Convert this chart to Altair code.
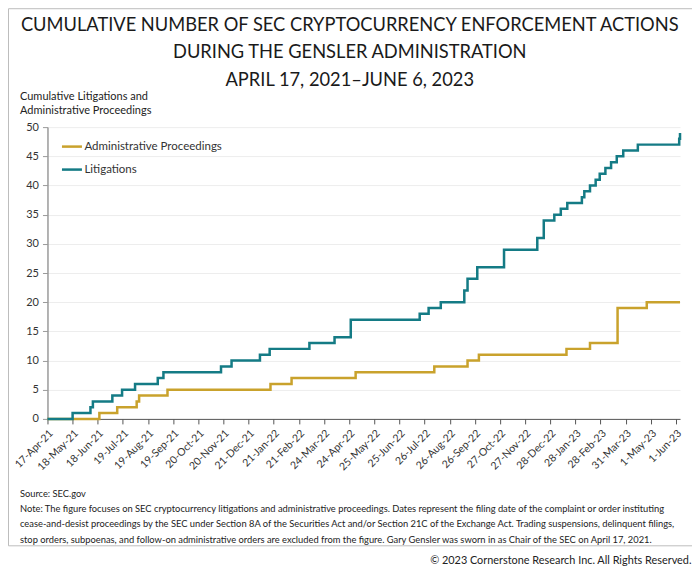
import altair as alt
import pandas as pd

# ---------------- data ----------------
lit_dates = ["2021-04-17", "2021-05-18", "2021-06-09", "2021-06-12", "2021-07-06",
             "2021-07-18", "2021-08-03", "2021-08-31", "2021-09-07", "2021-11-17",
             "2021-11-30", "2022-01-04", "2022-01-16", "2022-03-06", "2022-04-06",
             "2022-04-26", "2022-07-20", "2022-07-31", "2022-08-15", "2022-09-13",
             "2022-09-17", "2022-09-29", "2022-11-01", "2022-12-12", "2022-12-20",
             "2023-01-02", "2023-01-10", "2023-01-18", "2023-02-05", "2023-02-08",
             "2023-02-15", "2023-02-22", "2023-02-27", "2023-03-06", "2023-03-13",
             "2023-03-20", "2023-03-28", "2023-04-15", "2023-06-05", "2023-06-06"]
lit_values = [0, 1, 2, 3, 4, 5, 6, 7, 8, 9, 10, 11, 12, 13, 14, 17, 18, 19, 20, 22,
              24, 26, 29, 31, 34, 35, 36, 37, 38, 39, 40, 41, 42, 43, 44, 45, 46, 47,
              48, 49]

ap_dates = ["2021-04-17", "2021-06-20", "2021-07-12", "2021-08-05", "2021-08-08",
            "2021-09-12", "2022-01-17", "2022-02-12", "2022-05-02", "2022-08-07",
            "2022-09-17", "2022-10-01", "2023-01-17", "2023-02-15", "2023-03-21",
            "2023-04-26", "2023-06-06"]
ap_values = [0, 1, 2, 3, 4, 5, 6, 7, 8, 9, 10, 11, 12, 13, 19, 20, 20]

series_names = ["Administrative Proceedings", "Litigations"]
series_colors = ["#c9a22c", "#147b85"]

tick_dates = ["2021-04-17", "2021-05-18", "2021-06-18", "2021-07-19", "2021-08-19",
              "2021-09-19", "2021-10-20", "2021-11-20", "2021-12-21", "2022-01-21",
              "2022-02-21", "2022-03-24", "2022-04-24", "2022-05-25", "2022-06-25",
              "2022-07-26", "2022-08-26", "2022-09-26", "2022-10-27", "2022-11-27",
              "2022-12-28", "2023-01-28", "2023-02-28", "2023-03-31", "2023-05-01",
              "2023-06-01"]
y_ticks = [0, 5, 10, 15, 20, 25, 30, 35, 40, 45, 50]
domain_start = "2021-04-17"
domain_end = "2023-06-06"

title_lines = ["CUMULATIVE NUMBER OF SEC CRYPTOCURRENCY ENFORCEMENT ACTIONS",
               "DURING THE GENSLER ADMINISTRATION",
               "APRIL 17, 2021\u2013JUNE 6, 2023"]
y_title_lines = ["Cumulative Litigations and", "Administrative Proceedings"]
source_text = "Source: SEC.gov"
note_lines = [
    "Note: The figure focuses on SEC cryptocurrency litigations and administrative proceedings. Dates represent the filing date of the complaint or order instituting",
    "cease-and-desist proceedings by the SEC under Section 8A of the Securities Act and/or Section 21C of the Exchange Act. Trading suspensions, delinquent filings,",
    "stop orders, subpoenas, and follow-on administrative orders are excluded from the figure. Gary Gensler was sworn in as Chair of the SEC on April 17, 2021.",
]
copyright_text = "\u00a9 2023 Cornerstone Research Inc. All Rights Reserved."

# ---------------- tables ----------------
df = pd.concat([
    pd.DataFrame({"date": ap_dates, "value": ap_values, "series": series_names[0]}),
    pd.DataFrame({"date": lit_dates, "value": lit_values, "series": series_names[1]}),
], ignore_index=True)
one = pd.DataFrame({"k": [0]})


def dt(s):
    y, m, d = (int(p) for p in s.split("-"))
    return alt.DateTime(year=y, month=m, date=d, utc=True)


FONT = "Lato"
W, H = 633, 292

lines = alt.Chart(df).mark_line(interpolate="step-after", strokeWidth=2.5).encode(
    x=alt.X("date:T",
            scale=alt.Scale(type="utc", domain=[dt(domain_start), dt(domain_end)]),
            axis=alt.Axis(values=[dt(t) for t in tick_dates],
                          labelExpr="utcFormat(datum.value, '%-d-%b-%y')",
                          labelAngle=315, labelFontSize=10.5,
                          labelColor="#333333", labelFont=FONT, tickColor="#555555",
                          domainColor="#555555", tickSize=5, grid=False, title=None,
                          labelPadding=4, labelOverlap=False)),
    y=alt.Y("value:Q", scale=alt.Scale(domain=[0, 50], nice=False),
            axis=alt.Axis(values=y_ticks, grid=True, gridColor="#ededed",
                          domainColor="#9a9a9a", domainWidth=1.5, tickColor="#9a9a9a",
                          tickSize=5, labelFontSize=11, labelColor="#333333",
                          labelFont=FONT, labelPadding=4, title=None)),
    color=alt.Color("series:N",
                    scale=alt.Scale(domain=series_names, range=series_colors),
                    legend=alt.Legend(title=None, orient="none", legendX=13, legendY=8,
                                      symbolType="stroke", symbolSize=400,
                                      symbolStrokeWidth=2.5, labelFontSize=11.5,
                                      labelFont=FONT, labelColor="#333333",
                                      labelOffset=1, rowPadding=6)),
)


def text_layer(txt, x, y, size, align="left", color="#222222", lh=None, font=FONT):
    kw = dict(text=txt, align=align, baseline="alphabetic", fontSize=size,
              font=font, color=color)
    if lh is not None:
        kw["lineHeight"] = lh
    return alt.Chart(one).mark_text(**kw).encode(x=alt.value(x), y=alt.value(y))


border = alt.Chart(one).mark_rect(filled=False, stroke="#bdbdbd", strokeWidth=1).encode(
    x=alt.value(-39), x2=alt.value(649), y=alt.value(-118.5), y2=alt.value(419))

chart = alt.layer(
    border,
    lines,
    text_layer(title_lines, 302.5, -96.5, 18.3, align="center", color="#1a1a1a", lh=27.5),
    text_layer(y_title_lines, -27.5, -27, 11, lh=14),
    text_layer(source_text, -27.5, 370.5, 9.3),
    text_layer(note_lines, -27.5, 385, 9.35, lh=15.5),
    text_layer(copyright_text, 644.5, 437, 10.9, align="right", color="#222222"),
).properties(
    width=W, height=H,
    autosize=alt.AutoSizeParams(type="none"),
    padding={"left": 39.5, "top": 119, "right": 12, "bottom": 148},
).configure_view(strokeWidth=0)

chart.save("out.html", embed_options={"renderer": "svg", "actions": False})
